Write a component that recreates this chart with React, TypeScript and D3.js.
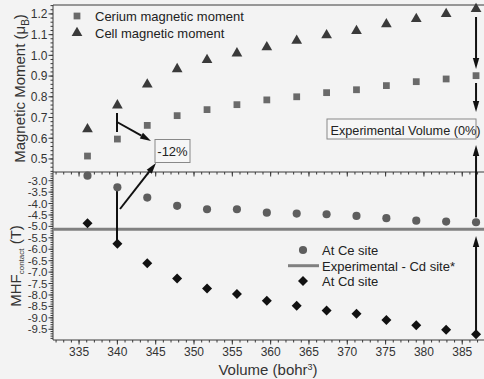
import * as d3 from "d3";

// volumes (bohr^3) shared by every series
const volumes = [336.1, 340.0, 343.9, 347.8, 351.7, 355.6, 359.5, 363.4, 367.3, 371.2, 375.1, 379.0, 382.9, 386.8];
// top panel: magnetic moment (μB)
const ceriumMoment = [0.514, 0.596, 0.662, 0.709, 0.738, 0.762, 0.785, 0.8, 0.82, 0.834, 0.854, 0.873, 0.886, 0.902];
const cellMoment = [0.644, 0.759, 0.86, 0.934, 0.978, 1.01, 1.039, 1.071, 1.097, 1.118, 1.15, 1.176, 1.2, 1.224];
// bottom panel: contact hyperfine field (T)
const atCeSite = [-2.78, -3.29, -3.74, -4.1, -4.25, -4.25, -4.4, -4.44, -4.47, -4.54, -4.64, -4.75, -4.79, -4.82];
const atCdSite = [-4.86, -5.76, -6.61, -7.28, -7.72, -7.96, -8.25, -8.47, -8.68, -8.82, -9.1, -9.33, -9.52, -9.72];
const experimentalCd = -5.12;

const xTicks = [335, 340, 345, 350, 355, 360, 365, 370, 375, 380, 385];
const topTicks = [0.5, 0.6, 0.7, 0.8, 0.9, 1.0, 1.1, 1.2];
const bottomTicks = [-3.0, -3.5, -4.0, -4.5, -5.0, -5.5, -6.0, -6.5, -7.0, -7.5, -8.0, -8.5, -9.0, -9.5];

const FONT = "'Liberation Sans', Arial, sans-serif";
const AXIS = "#3a3a3a";

export default function App() {
    const W = 484, H = 379;
    const left = 53, right = 486;
    const top = 5, mid = 172, bottom = 340;

    const x = d3.scaleLinear().domain([331.6, 388.1]).range([left, right]);
    const yTop = d3.scaleLinear().domain([0.437, 1.243]).range([mid, top]);
    const yBot = d3.scaleLinear().domain([-9.97, -2.62]).range([bottom, mid]);

    const sq = d3.symbol(d3.symbolSquare, 46)()!;
    const tri = d3.symbol(d3.symbolTriangle, 50)()!;
    const circ = d3.symbol(d3.symbolCircle, 52)()!;
    const dia = d3.symbol(d3.symbolSquare, 50)()!;

    const minorX = d3.range(332, 389, 1);
    const minorTop = d3.range(0.44, 1.245, 0.02);
    const minorBot = d3.range(-9.9, -2.6, 0.1);

    // straight arrow with a filled head at (x2, y2)
    const arrow = (x1: number, y1: number, x2: number, y2: number, key: string) => {
        const a = Math.atan2(y2 - y1, x2 - x1);
        const len = 11, hw = 3.2;
        const bx = x2 - len * Math.cos(a), by = y2 - len * Math.sin(a);
        const px = -Math.sin(a) * hw, py = Math.cos(a) * hw;
        return (
            <g key={key}>
                <line x1={x1} y1={y1} x2={bx} y2={by} stroke="#111" strokeWidth={2} />
                <path d={`M${x2},${y2}L${bx + px},${by + py}L${bx - px},${by - py}Z`} fill="#111" />
            </g>
        );
    };

    const xr = x(volumes[volumes.length - 1]);

    return (
        <svg width={W} height={H} style={{ position: "fixed", left: 0, top: 0 }} fontFamily={FONT}>
            <rect width={W} height={H} fill="#f3f3f3" />

            {/* frame */}
            <line x1={left} x2={right} y1={top} y2={top} stroke={AXIS} strokeWidth={1} />
            <line x1={left} x2={left} y1={top} y2={bottom} stroke={AXIS} strokeWidth={1} />
            <line x1={left} x2={right} y1={mid} y2={mid} stroke={AXIS} strokeWidth={1} />
            <line x1={left} x2={right} y1={bottom} y2={bottom} stroke={AXIS} strokeWidth={1} />

            {/* x ticks: under divider and under bottom axis */}
            {minorX.map(v => (
                <g key={"mx" + v}>
                    <line x1={x(v)} x2={x(v)} y1={mid} y2={mid + 2.5} stroke={AXIS} />
                    <line x1={x(v)} x2={x(v)} y1={bottom} y2={bottom + 2.5} stroke={AXIS} />
                </g>
            ))}
            {xTicks.map(v => (
                <g key={"x" + v}>
                    <line x1={x(v)} x2={x(v)} y1={mid} y2={mid + 4.5} stroke={AXIS} />
                    <line x1={x(v)} x2={x(v)} y1={bottom} y2={bottom + 4.5} stroke={AXIS} />
                    <text x={x(v)} y={bottom + 16} textAnchor="middle" fontSize={12} fill="#333">{v}</text>
                </g>
            ))}

            {/* y ticks */}
            {minorTop.map(v => (
                <line key={"mt" + v} x1={left - 2.5} x2={left} y1={yTop(v)} y2={yTop(v)} stroke={AXIS} />
            ))}
            {topTicks.map(v => (
                <g key={"t" + v}>
                    <line x1={left - 4.5} x2={left} y1={yTop(v)} y2={yTop(v)} stroke={AXIS} />
                    <text x={left - 5.5} y={yTop(v) + 4.3} textAnchor="end" fontSize={12} fill="#333">{v.toFixed(1)}</text>
                </g>
            ))}
            {minorBot.map(v => (
                <line key={"mb" + v} x1={left - 2.5} x2={left} y1={yBot(v)} y2={yBot(v)} stroke={AXIS} />
            ))}
            {bottomTicks.map(v => (
                <g key={"b" + v}>
                    <line x1={left - 4.5} x2={left} y1={yBot(v)} y2={yBot(v)} stroke={AXIS} />
                    <text x={left - 5.5} y={yBot(v) + 4} textAnchor="end" fontSize={11.5} fill="#333">{v.toFixed(1)}</text>
                </g>
            ))}

            {/* axis titles */}
            <text transform={`translate(25,${(top + mid) / 2}) rotate(-90)`} textAnchor="middle" fontSize={15} fill="#333">
                Magnetic Moment (μ<tspan fontSize={10} dy={4}>B</tspan><tspan dy={-4}>)</tspan>
            </text>
            <text transform={`translate(21,266) rotate(-90)`} textAnchor="middle" fontSize={15} fill="#333">
                MHF<tspan fontSize={8} dy={3}>contact</tspan><tspan dy={-3}> (T)</tspan>
            </text>
            <text x={268} y={374.5} textAnchor="middle" fontSize={15} fill="#333">
                Volume (bohr<tspan fontSize={9} dy={-5}>3</tspan><tspan dy={5}>)</tspan>
            </text>

            {/* experimental Cd line */}
            <line x1={left} x2={right} y1={yBot(experimentalCd)} y2={yBot(experimentalCd)} stroke="#808080" strokeWidth={3} />

            {/* annotations */}
            <line x1={117} x2={117} y1={113} y2={132} stroke="#111" strokeWidth={2} />
            {arrow(117, 122, 151, 141, "a1")}
            <line x1={117} x2={117} y1={yBot(atCeSite[1])} y2={yBot(atCdSite[1])} stroke="#111" strokeWidth={2} />
            {arrow(120, 209, 156, 163, "a2")}
            <rect x={155} y={139.5} width={35} height={23} fill="#f6f6f6" stroke="#888" strokeWidth={1} />
            <text x={172.5} y={156} textAnchor="middle" fontSize={13} fill="#222">-12%</text>

            {arrow(xr, 17, xr, 69, "a3")}
            {arrow(xr, 83, xr, 112, "a4")}
            {arrow(xr, yBot(atCeSite[13]) - 5, xr, 145, "a5")}
            {arrow(xr, yBot(atCdSite[13]) - 2, xr, 236, "a6")}
            <rect x={327} y={119} width={149} height={20} fill="#f6f6f6" stroke="#888" strokeWidth={1} />
            <text x={330.5} y={134.5} fontSize={13.2} fill="#222" textLength={150} lengthAdjust="spacingAndGlyphs">Experimental Volume (0%)</text>

            {/* data */}
            {volumes.map((v, i) => (
                <g key={"p" + i}>
                    <path d={sq} transform={`translate(${x(v)},${yTop(ceriumMoment[i])})`} fill="#6a6a6a" />
                    <path d={tri} transform={`translate(${x(v)},${yTop(cellMoment[i])})`} fill="#3a3a3a" />
                    <path d={circ} transform={`translate(${x(v)},${yBot(atCeSite[i])})`} fill="#5e5e5e" />
                    <path d={dia} transform={`translate(${x(v)},${yBot(atCdSite[i])}) rotate(45)`} fill="#111" />
                </g>
            ))}

            {/* top legend */}
            <path d={sq} transform="translate(77,16)" fill="#6a6a6a" />
            <text x={95} y={20.5} fontSize={13} fill="#222">Cerium magnetic moment</text>
            <path d={tri} transform="translate(77,33)" fill="#3a3a3a" />
            <text x={95} y={38} fontSize={13} fill="#222">Cell magnetic moment</text>

            {/* bottom legend */}
            <path d={circ} transform="translate(303,250)" fill="#5e5e5e" />
            <text x={322} y={255} fontSize={13} fill="#222">At Ce site</text>
            <line x1={288} x2={319} y1={265.7} y2={265.7} stroke="#808080" strokeWidth={3} />
            <text x={322} y={270.5} fontSize={13} fill="#222">Experimental - Cd site*</text>
            <path d={dia} transform="translate(303,281) rotate(45)" fill="#111" />
            <text x={322} y={286} fontSize={13} fill="#222">At Cd site</text>
        </svg>
    );
}
